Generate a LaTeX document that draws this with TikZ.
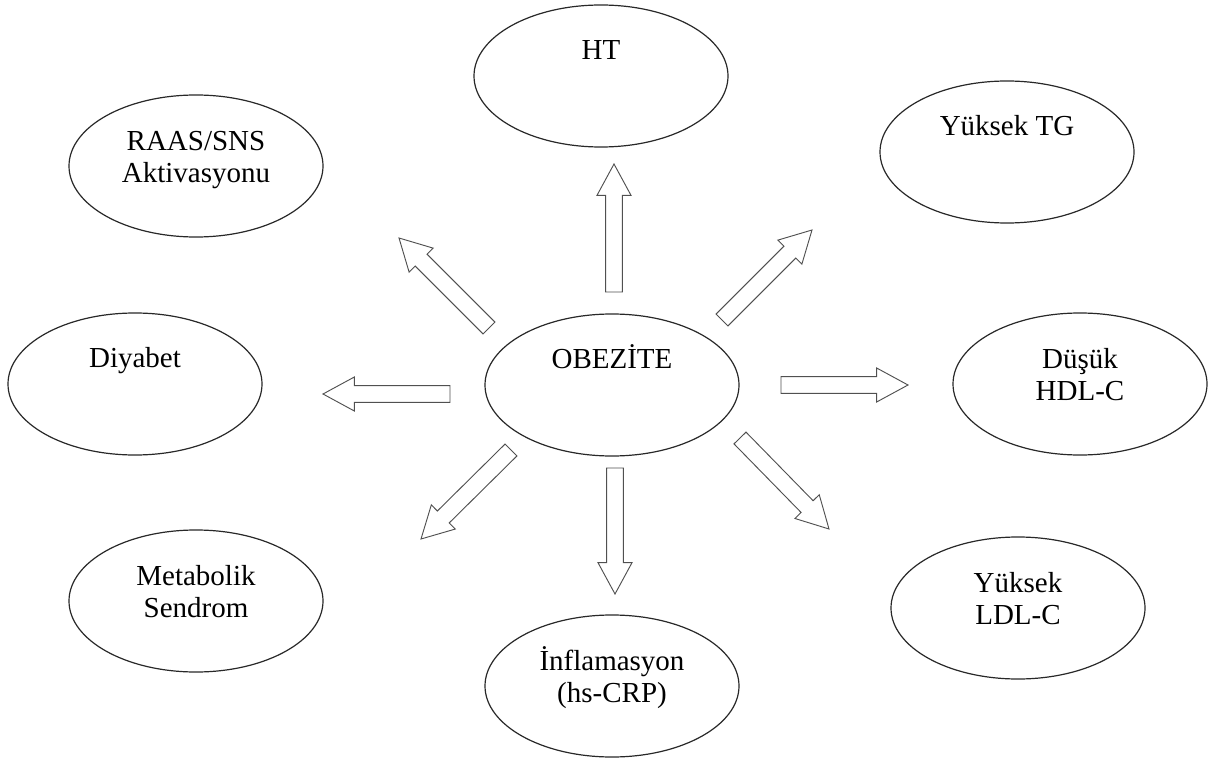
\documentclass[tikz,border=0pt]{standalone}
\usepackage{fontspec}
\setmainfont{Liberation Serif}
\usepackage{tikz}
\usetikzlibrary{shapes.geometric, calc}
\definecolor{outlinegray}{RGB}{40, 40, 40}
\definecolor{arrowgray}{RGB}{80, 80, 80}
\newcommand{\bubblefont}{\fontsize{21.75}{24}\selectfont}

\begin{document}
\begin{tikzpicture}[x=0.75pt, y=-0.75pt,
    bubble/.style={ellipse, draw=outlinegray, line width=0.9pt, minimum width=190.5pt,
          minimum height=106.5pt, inner sep=0pt, align=center,
          text height=15pt, text depth=39.75pt, font=\bubblefont},
    twoline/.style={text height=39pt, text depth=14.25pt},
    hollowarrow/.style={draw=arrowgray, line width=0.7pt, line join=miter, to path={
          ($(\tikztostart)!6.3pt!90:(\tikztotarget)$)
          -- ($ ($(\tikztotarget)!23.5pt!(\tikztostart)$) !6.3pt!-90:(\tikztostart) $)
          -- ($ ($(\tikztotarget)!23.5pt!(\tikztostart)$) !12.75pt!-90:(\tikztostart) $)
          -- (\tikztotarget)
          -- ($ ($(\tikztotarget)!23.5pt!(\tikztostart)$) !12.75pt!90:(\tikztostart) $)
          -- ($ ($(\tikztotarget)!23.5pt!(\tikztostart)$) !6.3pt!90:(\tikztostart) $)
          -- ($(\tikztostart)!6.3pt!-90:(\tikztotarget)$)
          -- cycle}}]
    \useasboundingbox (0,0) rectangle (1221,763);

    % centre and the eight outcomes
    \node[bubble] (obez) at (612,385) {OBEZİTE};
    \node[bubble] (ht) at (601,76) {HT};
    \node[bubble] (tg) at (1007,152) {Yüksek TG};
    \node[bubble, twoline] (raas) at (196,166) {RAAS/SNS\\Aktivasyonu};
    \node[bubble] (diy) at (135,384) {Diyabet};
    \node[bubble, twoline] (hdl) at (1080,384) {Düşük\\HDL-C};
    \node[bubble, twoline] (metab) at (196,601) {Metabolik\\Sendrom};
    \node[bubble, twoline] (infl) at (612,686) {İnflamasyon\\(hs-CRP)};
    \node[bubble, twoline] (ldl) at (1018,608) {Yüksek\\LDL-C};

    % arrow tails and tips
    \coordinate (from-ht) at (614,292);    \coordinate (to-ht) at (614,164);
    \coordinate (from-tg) at (722,320);    \coordinate (to-tg) at (812,230);
    \coordinate (from-raas) at (489,328);  \coordinate (to-raas) at (399,238);
    \coordinate (from-diy) at (450,394);   \coordinate (to-diy) at (323,394);
    \coordinate (from-hdl) at (781,385);   \coordinate (to-hdl) at (908,385);
    \coordinate (from-metab) at (511,450); \coordinate (to-metab) at (421,539);
    \coordinate (from-infl) at (615,468);  \coordinate (to-infl) at (615,594);
    \coordinate (from-ldl) at (740,438);   \coordinate (to-ldl) at (829,529);

    \draw[hollowarrow] (from-ht) to (to-ht);
    \draw[hollowarrow] (from-tg) to (to-tg);
    \draw[hollowarrow] (from-raas) to (to-raas);
    \draw[hollowarrow] (from-diy) to (to-diy);
    \draw[hollowarrow] (from-hdl) to (to-hdl);
    \draw[hollowarrow] (from-metab) to (to-metab);
    \draw[hollowarrow] (from-infl) to (to-infl);
    \draw[hollowarrow] (from-ldl) to (to-ldl);
\end{tikzpicture}
\end{document}
